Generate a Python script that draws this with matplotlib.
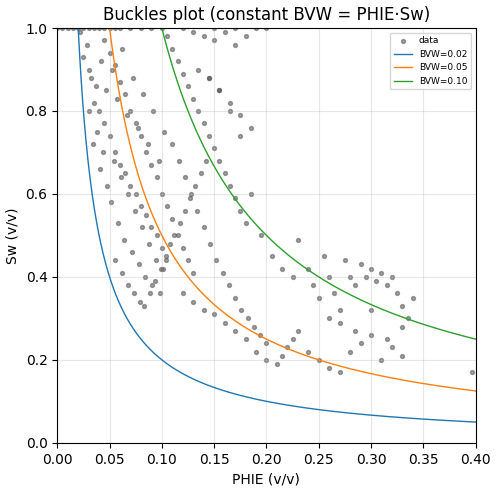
import numpy as np
import matplotlib
matplotlib.use("Agg")
import matplotlib.pyplot as plt

phie = [0.0,0.005,0.01,0.015,0.02,0.025,0.03,0.035,0.04,0.045,0.05,0.055,0.06,0.07,0.08,0.09,0.1,0.12,0.15,0.17,0.19,0.2,
0.022,0.025,0.028,0.03,0.032,0.035,0.037,0.04,0.042,0.045,0.047,0.05,0.052,0.055,0.057,0.06,0.062,0.065,0.067,0.07,0.072,0.075,0.077,0.08,0.082,0.085,0.087,0.09,0.092,0.095,0.097,0.1,0.102,0.104,
0.03,0.034,0.038,0.041,0.044,0.048,0.051,0.054,0.058,0.061,0.064,0.068,0.071,0.074,0.078,0.081,0.084,0.088,0.091,0.094,0.098,0.101,
0.045,0.05,0.055,0.06,0.065,0.07,0.075,0.08,0.085,0.09,0.095,0.1,0.105,0.11,0.115,0.12,0.125,0.13,
0.055,0.062,0.068,0.073,0.079,0.083,0.089,0.093,0.099,0.104,0.108,0.112,0.117,0.122,0.127,0.132,0.137,0.142,
0.105,0.11,0.115,0.12,0.125,0.13,0.135,0.14,0.145,0.15,0.155,0.16,0.165,0.17,0.175,0.18,
0.11,0.116,0.122,0.128,0.134,0.14,0.146,0.152,0.158,0.164,0.17,0.176,0.182,0.188,0.194,0.2,
0.12,0.13,0.14,0.15,0.16,0.17,0.18,0.19,0.2,0.21,0.215,0.22,0.225,0.23,
0.145,0.155,0.165,0.175,0.185,0.195,0.205,0.215,0.225,
0.23,0.24,0.245,0.25,0.255,0.26,0.265,0.27,0.275,0.28,0.285,0.29,0.295,0.3,0.305,0.31,0.315,0.32,0.325,0.33,0.335,0.34,
0.24,0.25,0.26,0.27,0.28,0.29,0.3,0.31,0.32,0.33,0.26,0.27,0.285,0.3,0.315,0.33,0.397,
0.13,0.14,0.15,0.16,0.17,0.18,0.135,0.145,0.155,0.165,0.175,0.185]
sw = [1.0]*22 + \
[0.99,0.93,0.96,0.9,0.88,0.82,0.86,0.8,0.92,0.77,0.85,0.74,0.9,0.7,0.83,0.67,0.95,0.65,0.79,0.62,0.88,0.6,0.76,0.57,0.84,0.55,0.72,0.52,0.8,0.5,0.68,0.47,0.75,0.44]+\
[0.8,0.72,0.75,0.66,0.7,0.62,0.58,0.68,0.53,0.64,0.49,0.6,0.46,0.56,0.43,0.52,0.4,0.48,0.38,0.44,0.36,0.42]+\
[0.97,0.94,0.91,0.87,0.84,0.8,0.77,0.74,0.7,0.67,0.64,0.6,0.57,0.54,0.5,0.47,0.44,0.41]+\
[0.44,0.41,0.38,0.36,0.34,0.33,0.36,0.39,0.42,0.45,0.48,0.5,0.53,0.56,0.59,0.62,0.65,0.68]+\
[0.98,0.95,0.92,0.89,0.86,0.83,0.8,0.77,0.74,0.71,0.68,0.65,0.62,0.59,0.56,0.53]+\
[0.72,0.68,0.64,0.6,0.56,0.52,0.48,0.44,0.41,0.38,0.35,0.32,0.3,0.28,0.26,0.24]+\
[0.36,0.34,0.32,0.31,0.29,0.27,0.25,0.22,0.2,0.19,0.21,0.23,0.25,0.27]+\
[0.88,0.85,0.8,0.74,0.6,0.5,0.45,0.42,0.4]+\
[0.49,0.42,0.38,0.35,0.45,0.4,0.36,0.32,0.44,0.4,0.38,0.43,0.4,0.42,0.39,0.41,0.38,0.4,0.36,0.33,0.3,0.35]+\
[0.22,0.2,0.18,0.17,0.22,0.24,0.26,0.2,0.23,0.21,0.3,0.29,0.27,0.32,0.25,0.28,0.17]+\
[0.99,0.98,0.97,0.99,0.96,0.98,0.9,0.88,0.85,0.82,0.79,0.76]

bvw_levels = [0.02, 0.05, 0.10]
colors = ['#1f77b4', '#ff7f0e', '#2ca02c']

fig, ax = plt.subplots(figsize=(4.98, 4.92), dpi=100)
ax.scatter(phie, sw, s=8, c='#555555', alpha=0.55, label='data')
x = np.linspace(0.001, 0.4, 800)
for b, c in zip(bvw_levels, colors):
    ax.plot(x, b / x, color=c, lw=1, label=f'BVW={b:.2f}')
ax.set_xlim(0, 0.4)
ax.set_ylim(0, 1)
ax.set_xlabel('PHIE (v/v)')
ax.set_ylabel('Sw (v/v)')
ax.set_title('Buckles plot (constant BVW = PHIE·Sw)')
ax.grid(True, alpha=0.3)
ax.legend(loc='upper right', fontsize=6.5)
fig.subplots_adjust(left=0.115, right=0.955, top=0.943, bottom=0.1)
fig.savefig('out.png')
